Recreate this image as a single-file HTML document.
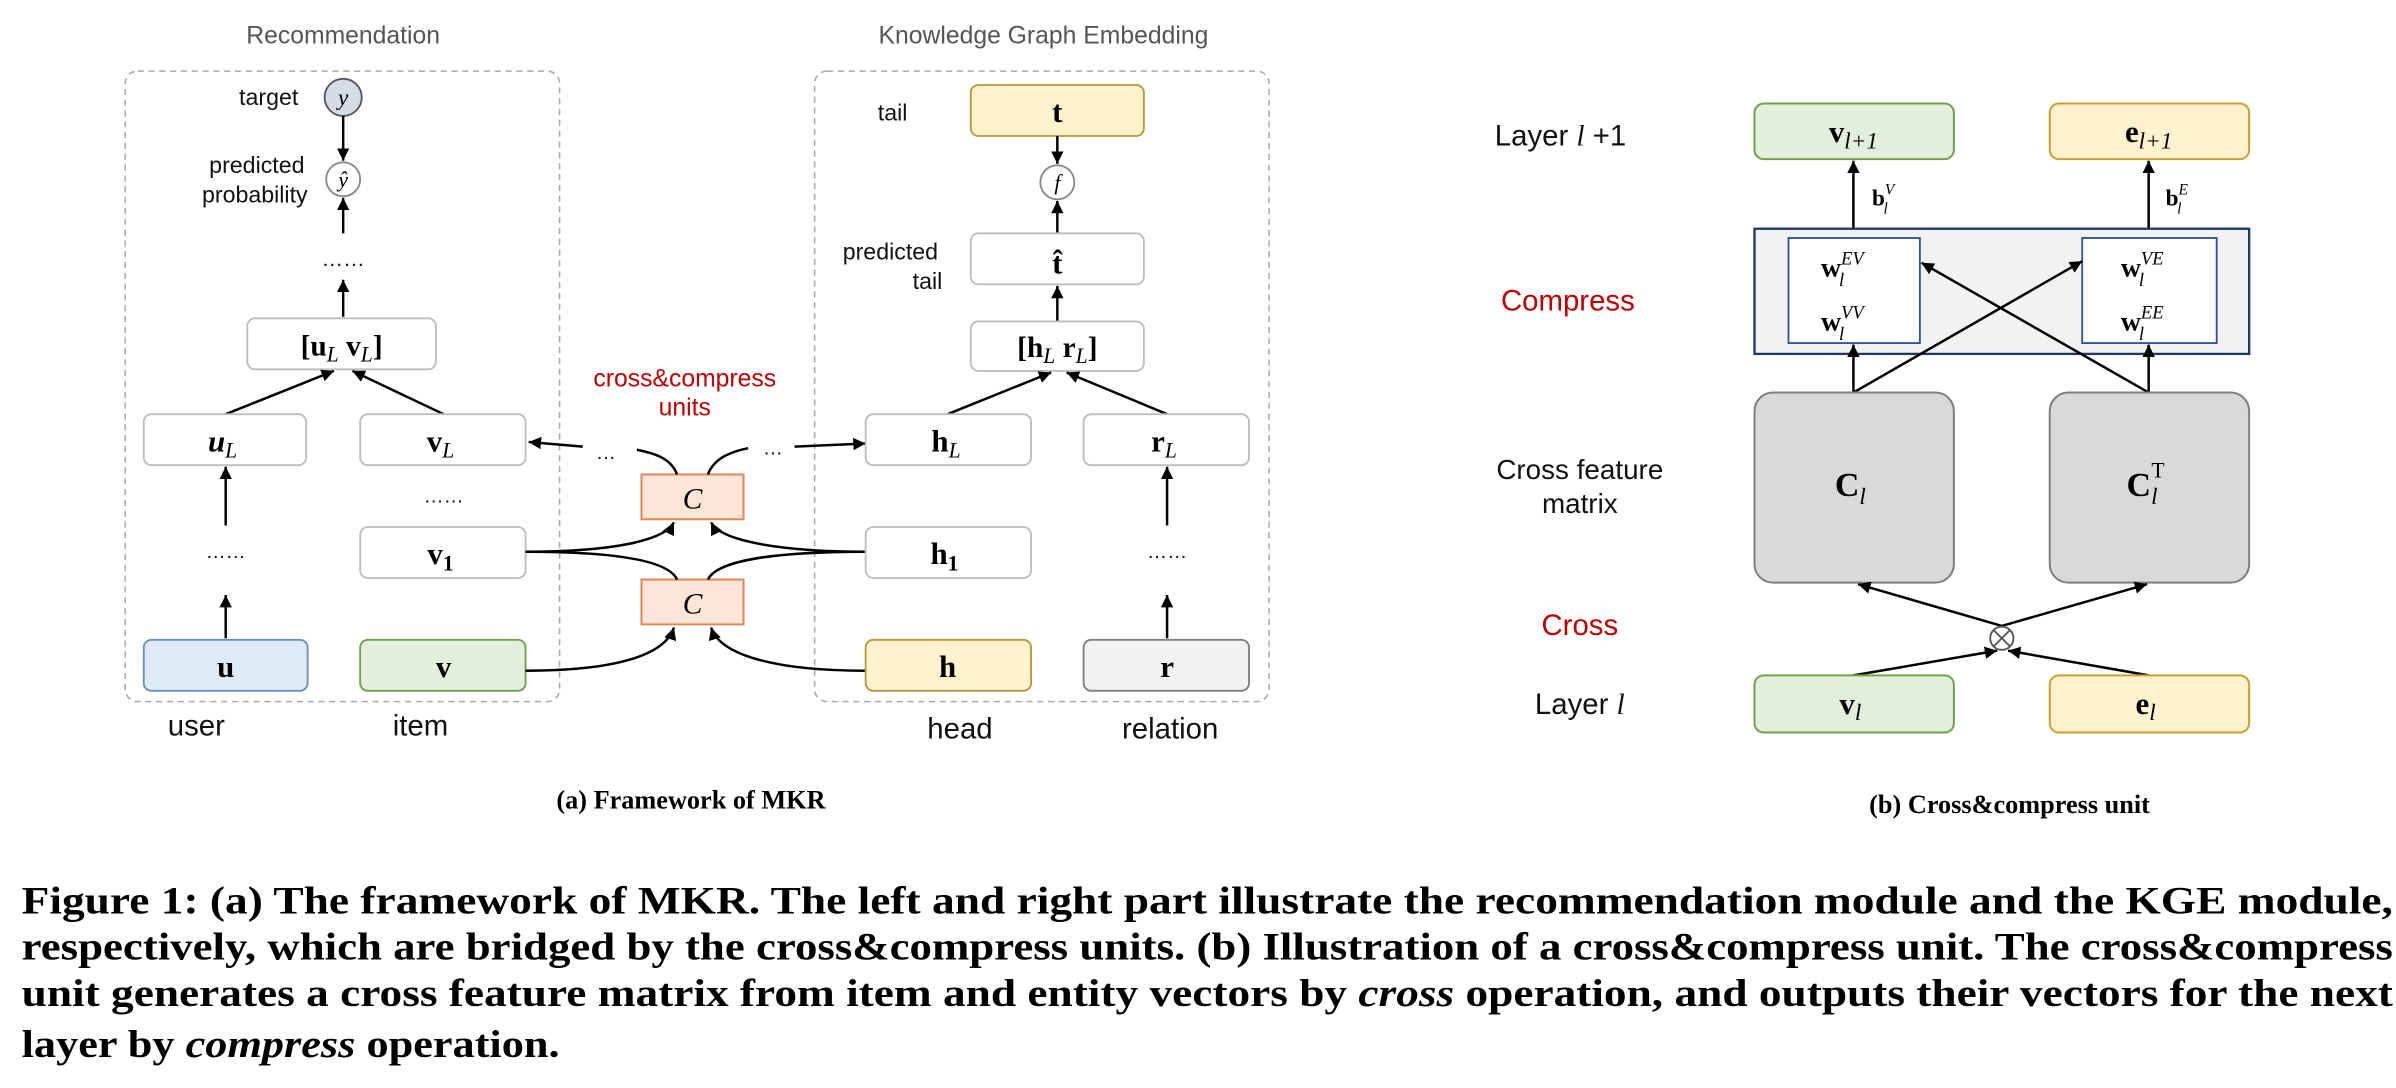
<!DOCTYPE html>
<html><head><meta charset="utf-8"><style>
html,body{margin:0;padding:0;background:#fff;}
svg{display:block;}
.lbl{font-family:"Liberation Sans",sans-serif;fill:#111;}
.m{font-family:"Liberation Serif",serif;font-weight:bold;fill:#000;}
.i{font-style:italic;font-weight:normal;}
.box{fill:#fff;stroke:#bdbdbd;stroke-width:1.2;}
.ln{stroke:#000;stroke-width:1.6;fill:none;}
</style></head><body>
<svg width="2396" height="1088" viewBox="0 0 1550 704" preserveAspectRatio="none" xmlns="http://www.w3.org/2000/svg">
<defs>
<marker id="a" viewBox="0 0 10 10" refX="10" refY="5" markerWidth="8" markerHeight="8" markerUnits="userSpaceOnUse" orient="auto"><path d="M0,0L10,5L0,10z" fill="#000"/></marker>
</defs>
<text x="222" y="28" text-anchor="middle" class="lbl" font-size="16" style="fill:#555">Recommendation</text>
<text x="675" y="28" text-anchor="middle" class="lbl" font-size="16" style="fill:#555">Knowledge Graph Embedding</text>
<rect x="81" y="46" width="281" height="408" rx="8" fill="none" stroke="#aaa" stroke-dasharray="4,3"/>
<rect x="527" y="46" width="294" height="408" rx="8" fill="none" stroke="#aaa" stroke-dasharray="4,3"/>

<text x="193" y="68" text-anchor="end" class="lbl" font-size="15">target</text>
<circle cx="222" cy="63" r="12" fill="#d6dce5" stroke="#556" stroke-width="1.2"/>
<text x="222" y="68" text-anchor="middle" class="m i" font-size="15">y</text>
<line x1="222" y1="75" x2="222" y2="104" class="ln" marker-end="url(#a)"/>
<circle cx="222" cy="116" r="11" fill="#fff" stroke="#888" stroke-width="1.2"/>
<text x="222" y="121" text-anchor="middle" class="m i" font-size="14">ŷ</text>
<text x="197" y="112" text-anchor="end" class="lbl" font-size="15">predicted</text>
<text x="199" y="131" text-anchor="end" class="lbl" font-size="15">probability</text>
<line x1="222" y1="151" x2="222" y2="128" class="ln" marker-end="url(#a)"/>
<text x="222" y="172" text-anchor="middle" class="lbl" font-size="14">……</text>
<line x1="222" y1="205" x2="222" y2="181" class="ln" marker-end="url(#a)"/>
<rect x="160" y="206" width="122" height="33" rx="5" class="box"/>
<text x="221" y="230" text-anchor="middle" class="m" font-size="19">[u<tspan class="i" font-size="14" dy="4">L</tspan><tspan dy="-4"> v</tspan><tspan class="i" font-size="14" dy="4">L</tspan><tspan dy="-4">]</tspan></text>
<line x1="146" y1="268" x2="216" y2="240" class="ln" marker-end="url(#a)"/>
<line x1="287" y1="268" x2="228" y2="240" class="ln" marker-end="url(#a)"/>
<rect x="93" y="268" width="105" height="33" rx="5" class="box"/>
<text x="144" y="292" text-anchor="middle" class="m" font-size="20"><tspan font-style="italic">u</tspan><tspan class="i" font-size="14" dy="4">L</tspan></text>
<rect x="233" y="268" width="107" height="33" rx="5" class="box"/>
<text x="285" y="292" text-anchor="middle" class="m" font-size="20">v<tspan class="i" font-size="14" dy="4">L</tspan></text>
<line x1="146" y1="340" x2="146" y2="302" class="ln" marker-end="url(#a)"/>
<text x="146" y="361" text-anchor="middle" class="lbl" font-size="13">……</text>
<text x="287" y="325" text-anchor="middle" class="lbl" font-size="13">……</text>
<rect x="233" y="341" width="107" height="33" rx="5" class="box"/>
<text x="285" y="365" text-anchor="middle" class="m" font-size="20">v<tspan font-size="14" dy="4">1</tspan></text>
<line x1="146" y1="413" x2="146" y2="385" class="ln" marker-end="url(#a)"/>
<rect x="93" y="414" width="106" height="33" rx="5" fill="#deebf7" stroke="#6c8ebf" stroke-width="1.2"/>
<text x="146" y="438" text-anchor="middle" class="m" font-size="20">u</text>
<rect x="233" y="414" width="107" height="33" rx="5" fill="#e2efda" stroke="#70a050" stroke-width="1.2"/>
<text x="287" y="438" text-anchor="middle" class="m" font-size="20">v</text>
<text x="127" y="476" text-anchor="middle" class="lbl" font-size="19">user</text>
<text x="272" y="476" text-anchor="middle" class="lbl" font-size="19">item</text>

<rect x="415" y="307" width="66" height="29" fill="#fbe5d6" stroke="#e0865a" stroke-width="1.3"/>
<text x="448" y="329" text-anchor="middle" class="m i" font-size="19">C</text>
<rect x="415" y="375" width="66" height="29" fill="#fbe5d6" stroke="#e0865a" stroke-width="1.3"/>
<text x="448" y="397" text-anchor="middle" class="m i" font-size="19">C</text>
<path d="M340,357 C395,357 430,350 436,338" class="ln" marker-end="url(#a)"/>
<path d="M340,357 C395,357 432,362 438,375" class="ln"/>
<path d="M560,357 C505,357 466,350 460,338" class="ln" marker-end="url(#a)"/>
<path d="M560,357 C505,357 464,362 458,375" class="ln"/>
<path d="M340,434 C395,434 430,425 436,406" class="ln" marker-end="url(#a)"/>
<path d="M560,434 C505,434 466,425 460,406" class="ln" marker-end="url(#a)"/>
<path d="M438,307 C434,296 422,293 412,291" class="ln"/>
<text x="392" y="297" text-anchor="middle" class="lbl" font-size="13">…</text>
<line x1="377" y1="289" x2="342" y2="286" class="ln" marker-end="url(#a)"/>
<path d="M458,307 C462,296 474,292 484,290" class="ln"/>
<text x="500" y="294" text-anchor="middle" class="lbl" font-size="13">…</text>
<line x1="514" y1="289" x2="560" y2="287" class="ln" marker-end="url(#a)"/>
<text x="443" y="250" text-anchor="middle" class="lbl" font-size="16" style="fill:#c00000">cross&amp;compress</text>
<text x="443" y="269" text-anchor="middle" class="lbl" font-size="16" style="fill:#c00000">units</text>

<text x="587" y="78" text-anchor="end" class="lbl" font-size="15">tail</text>
<rect x="628" y="55" width="112" height="33" rx="5" fill="#fff2cc" stroke="#b8963b" stroke-width="1.2"/>
<text x="684" y="79" text-anchor="middle" class="m" font-size="20">t</text>
<line x1="684" y1="88" x2="684" y2="106" class="ln" marker-end="url(#a)"/>
<circle cx="684" cy="118" r="11" fill="#fff" stroke="#888" stroke-width="1.2"/>
<text x="684" y="123" text-anchor="middle" class="m i" font-size="14">f</text>
<line x1="684" y1="151" x2="684" y2="130" class="ln" marker-end="url(#a)"/>
<text x="576" y="168" text-anchor="middle" class="lbl" font-size="15">predicted</text>
<text x="600" y="187" text-anchor="middle" class="lbl" font-size="15">tail</text>
<rect x="628" y="151" width="112" height="33" rx="5" class="box"/>
<text x="684" y="177" text-anchor="middle" class="m" font-size="20">t̂</text>
<line x1="684" y1="208" x2="684" y2="185" class="ln" marker-end="url(#a)"/>
<rect x="628" y="208" width="112" height="32" rx="5" class="box"/>
<text x="684" y="231" text-anchor="middle" class="m" font-size="19">[h<tspan class="i" font-size="14" dy="4">L</tspan><tspan dy="-4"> r</tspan><tspan class="i" font-size="14" dy="4">L</tspan><tspan dy="-4">]</tspan></text>
<line x1="613" y1="268" x2="680" y2="241" class="ln" marker-end="url(#a)"/>
<line x1="755" y1="268" x2="690" y2="241" class="ln" marker-end="url(#a)"/>
<rect x="560" y="268" width="107" height="33" rx="5" class="box"/>
<text x="612" y="292" text-anchor="middle" class="m" font-size="20">h<tspan class="i" font-size="14" dy="4">L</tspan></text>
<rect x="701" y="268" width="107" height="33" rx="5" class="box"/>
<text x="753" y="292" text-anchor="middle" class="m" font-size="20">r<tspan class="i" font-size="14" dy="4">L</tspan></text>
<rect x="560" y="341" width="107" height="33" rx="5" class="box"/>
<text x="611" y="365" text-anchor="middle" class="m" font-size="20">h<tspan font-size="14" dy="4">1</tspan></text>
<line x1="755" y1="340" x2="755" y2="302" class="ln" marker-end="url(#a)"/>
<text x="755" y="361" text-anchor="middle" class="lbl" font-size="13">……</text>
<line x1="755" y1="413" x2="755" y2="385" class="ln" marker-end="url(#a)"/>
<rect x="560" y="414" width="107" height="33" rx="5" fill="#fff2cc" stroke="#b8963b" stroke-width="1.2"/>
<text x="613" y="438" text-anchor="middle" class="m" font-size="20">h</text>
<rect x="701" y="414" width="107" height="33" rx="5" fill="#f2f2f2" stroke="#7f7f7f" stroke-width="1.2"/>
<text x="755" y="438" text-anchor="middle" class="m" font-size="20">r</text>
<text x="621" y="478" text-anchor="middle" class="lbl" font-size="19">head</text>
<text x="757" y="478" text-anchor="middle" class="lbl" font-size="19">relation</text>

<text x="447" y="523" text-anchor="middle" class="m" font-size="17">(a) Framework of MKR</text>

<text x="967" y="94" class="lbl" font-size="19">Layer <tspan font-family="Liberation Serif" font-style="italic">l</tspan> +1</text>
<rect x="1135" y="67" width="129" height="36" rx="6" fill="#e2efda" stroke="#70a050" stroke-width="1.3"/>
<text x="1199" y="92" text-anchor="middle" class="m" font-size="20">v<tspan class="i" font-size="15" dy="4">l+1</tspan></text>
<rect x="1326" y="67" width="129" height="36" rx="6" fill="#fff2cc" stroke="#c9a030" stroke-width="1.3"/>
<text x="1390" y="92" text-anchor="middle" class="m" font-size="20">e<tspan class="i" font-size="15" dy="4">l+1</tspan></text>
<line x1="1199" y1="153" x2="1199" y2="104" class="ln" marker-end="url(#a)"/>
<line x1="1390" y1="153" x2="1390" y2="104" class="ln" marker-end="url(#a)"/>
<text x="1211" y="133" class="m" font-size="15">b<tspan class="i" font-size="10" dy="-7">V</tspan><tspan class="i" font-size="10" dx="-7" dy="12">l</tspan></text>
<text x="1401" y="133" class="m" font-size="15">b<tspan class="i" font-size="10" dy="-7">E</tspan><tspan class="i" font-size="10" dx="-7" dy="12">l</tspan></text>
<rect x="1135" y="148" width="320" height="81" fill="#f2f2f2" stroke="#1f3864" stroke-width="1.5"/>
<rect x="1157" y="154" width="85" height="68" fill="#fff" stroke="#2f5597" stroke-width="1.2"/>
<rect x="1347" y="154" width="87" height="68" fill="#fff" stroke="#2f5597" stroke-width="1.2"/>
<text x="1178" y="179" class="m" font-size="18">w<tspan class="i" font-size="12" dy="-8">EV</tspan><tspan class="i" font-size="12" dx="-16" dy="14">l</tspan></text>
<text x="1178" y="214" class="m" font-size="18">w<tspan class="i" font-size="12" dy="-8">VV</tspan><tspan class="i" font-size="12" dx="-16" dy="14">l</tspan></text>
<text x="1372" y="179" class="m" font-size="18">w<tspan class="i" font-size="12" dy="-8">VE</tspan><tspan class="i" font-size="12" dx="-16" dy="14">l</tspan></text>
<text x="1372" y="214" class="m" font-size="18">w<tspan class="i" font-size="12" dy="-8">EE</tspan><tspan class="i" font-size="12" dx="-16" dy="14">l</tspan></text>
<text x="971" y="201" class="lbl" font-size="19" style="fill:#c00000">Compress</text>
<line x1="1199" y1="254" x2="1199" y2="223" class="ln" marker-end="url(#a)"/>
<line x1="1390" y1="254" x2="1390" y2="223" class="ln" marker-end="url(#a)"/>
<line x1="1199" y1="254" x2="1347" y2="169" class="ln" marker-end="url(#a)"/>
<line x1="1390" y1="254" x2="1243" y2="170" class="ln" marker-end="url(#a)"/>
<rect x="1135" y="254" width="129" height="123" rx="12" fill="#d9d9d9" stroke="#7f7f7f" stroke-width="1.3"/>
<rect x="1326" y="254" width="129" height="123" rx="12" fill="#d9d9d9" stroke="#7f7f7f" stroke-width="1.3"/>
<text x="1197" y="321" text-anchor="middle" class="m" font-size="22">C<tspan class="i" font-size="15" dy="5">l</tspan></text>
<text x="1388" y="321" text-anchor="middle" class="m" font-size="22">C<tspan class="i" font-size="15" dy="5">l</tspan><tspan font-weight="normal" font-size="14" dx="-4" dy="-17">T</tspan></text>
<text x="1022" y="310" text-anchor="middle" class="lbl" font-size="18">Cross feature</text>
<text x="1022" y="332" text-anchor="middle" class="lbl" font-size="18">matrix</text>
<text x="1022" y="411" text-anchor="middle" class="lbl" font-size="19" style="fill:#c00000">Cross</text>
<line x1="1295" y1="405" x2="1202" y2="378" class="ln" marker-end="url(#a)"/>
<line x1="1295" y1="405" x2="1389" y2="378" class="ln" marker-end="url(#a)"/>
<line x1="1199" y1="437" x2="1292" y2="421" class="ln" marker-end="url(#a)"/>
<line x1="1390" y1="437" x2="1299" y2="421" class="ln" marker-end="url(#a)"/>
<circle cx="1295" cy="413" r="7.5" fill="#fff" stroke="#555" stroke-width="1.2"/>
<path d="M1290,408L1300,418M1300,408L1290,418" stroke="#555" stroke-width="1.2"/>
<text x="1022" y="462" text-anchor="middle" class="lbl" font-size="19">Layer <tspan font-family="Liberation Serif" font-style="italic">l</tspan></text>
<rect x="1135" y="437" width="129" height="37" rx="6" fill="#e2efda" stroke="#70a050" stroke-width="1.3"/>
<text x="1197" y="462" text-anchor="middle" class="m" font-size="20">v<tspan class="i" font-size="15" dy="4">l</tspan></text>
<rect x="1326" y="437" width="129" height="37" rx="6" fill="#fff2cc" stroke="#c9a030" stroke-width="1.3"/>
<text x="1388" y="462" text-anchor="middle" class="m" font-size="20">e<tspan class="i" font-size="15" dy="4">l</tspan></text>
<text x="1300" y="526" text-anchor="middle" class="m" font-size="17">(b) Cross&amp;compress unit</text>

<g class="m" font-size="25">
<text x="14" y="591" textLength="1534" lengthAdjust="spacingAndGlyphs">Figure 1: (a) The framework of MKR. The left and right part illustrate the recommendation module and the KGE module,</text>
<text x="14" y="621" textLength="1534" lengthAdjust="spacingAndGlyphs">respectively, which are bridged by the cross&amp;compress units. (b) Illustration of a cross&amp;compress unit. The cross&amp;compress</text>
<text x="14" y="651" textLength="1534" lengthAdjust="spacingAndGlyphs">unit generates a cross feature matrix from item and entity vectors by <tspan font-style="italic">cross</tspan> operation, and outputs their vectors for the next</text>
<text x="14" y="684" textLength="348" lengthAdjust="spacingAndGlyphs">layer by <tspan font-style="italic">compress</tspan> operation.</text>
</g>
</svg>
</body></html>
